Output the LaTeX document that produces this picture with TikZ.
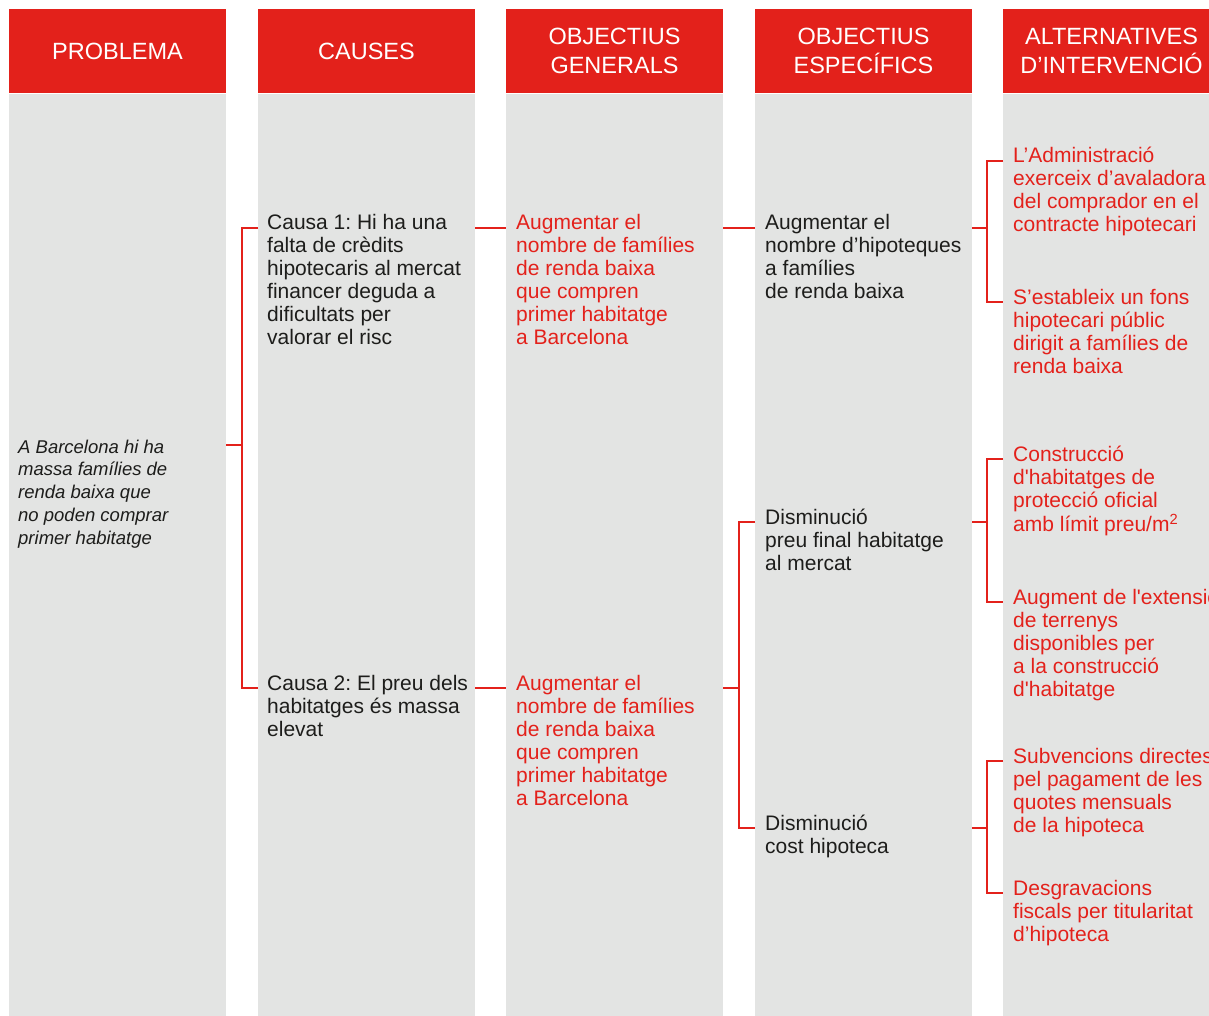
\documentclass[tikz,border=0pt]{standalone}
\usepackage{fontspec}
\newfontfamily\diag{Liberation Sans}
\usetikzlibrary{calc}
\definecolor{dred}{HTML}{E3211B}
\definecolor{dgray}{HTML}{E3E4E3}
\definecolor{dink}{HTML}{1D1D1B}
% rows on a top-aligned stack, so that a node's base is its first line
\newcommand{\rows}[1]{\begin{tabular}[t]{@{}l@{}}#1\end{tabular}}
\tikzset{
	colbody/.style={anchor=north west, fill=dgray, minimum width=217pt, minimum height=930pt, inner sep=0pt, outer sep=0pt},
	colhead/.style={fill=dred, text=white, minimum width=217pt, minimum height=84pt, inner sep=0pt, align=center, font=\diag\fontsize{23.5}{29.5}\selectfont},
	txt/.style={anchor=base west, inner sep=0pt, text=dink, font=\diag\fontsize{21}{23}\selectfont},
	redtxt/.style={txt, text=dred},
	link/.style={draw=dred, line width=2pt}
}
\begin{document}
\frenchspacing
\begin{tikzpicture}[x=1pt, y=-1pt]
		\useasboundingbox (0,0) rectangle (1209,1016);
		\foreach \i/\x/\title in {1/9/PROBLEMA, 2/258/CAUSES, 3/506/{OBJECTIUS\\GENERALS}, 4/755/{OBJECTIUS\\ESPECÍFICS}, 5/1003/{ALTERNATIVES\\D’INTERVENCIÓ}}{
			\node[colbody] (body\i) at (\x,94) {};
			\node[colhead] (head\i) at (\x+108.5,51) {\title};
		}
		
		\node[txt, font=\diag\itshape\fontsize{18.5}{22.75}\selectfont] (pb) at (18,453) {\rows{A Barcelona hi ha\\massa famílies de\\renda baixa que\\no poden comprar\\primer habitatge}};
		
		\node[txt] (cau1) at (267,230) {\rows{Causa 1: Hi ha una\\falta de crèdits\\hipotecaris al mercat\\financer deguda a\\dificultats per\\valorar el risc}};
		\node[txt] (cau2) at (267,690) {\rows{Causa 2: El preu dels\\habitatges és massa\\elevat}};
		
		\node[redtxt] (og1) at (516,230) {\rows{Augmentar el\\nombre de famílies\\de renda baixa\\que compren\\primer habitatge\\a Barcelona}};
		\node[redtxt] (og2) at (516,690) {\rows{Augmentar el\\nombre de famílies\\de renda baixa\\que compren\\primer habitatge\\a Barcelona}};
		
		\node[txt] (oe1) at (765,230) {\rows{Augmentar el\\nombre d’hipoteques\\a famílies\\de renda baixa}};
		\node[txt] (oe2) at (765,524) {\rows{Disminució\\preu final habitatge\\al mercat}};
		\node[txt] (oe3) at (765,830) {\rows{Disminució\\cost hipoteca}};
		
		\node[redtxt] (alt1) at (1013,163) {\rows{L’Administració\\exerceix d’avaladora\\del comprador en el\\contracte hipotecari}};
		\node[redtxt] (alt2) at (1013,304) {\rows{S’estableix un fons\\hipotecari públic\\dirigit a famílies de\\renda baixa}};
		\node[redtxt] (alt3) at (1013,461) {\rows{Construcció\\d'habitatges de\\protecció oficial\\amb límit preu/m\textsuperscript{2}}};
		\node[redtxt] (alt4) at (1013,604) {\rows{Augment de l'extensió\\de terrenys\\disponibles per\\a la construcció\\d'habitatge}};
		\node[redtxt] (alt5) at (1013,763) {\rows{Subvencions directes\\pel pagament de les\\quotes mensuals\\de la hipoteca}};
		\node[redtxt] (alt6) at (1013,895) {\rows{Desgravacions\\fiscals per titularitat\\d’hipoteca}};
		
		% connection points just above the first baselines
		\coordinate (ppb) at ([yshift=8pt]pb.base west);
		\foreach \n in {cau1,cau2,og1,og2,oe1,oe2,oe3,alt1,alt2,alt3,alt4,alt5,alt6}{
			\coordinate (p\n) at ([yshift=2pt]\n.base west);
		}
		
		\draw[link] (ppb -| body1.east) -- ++(16,0) coordinate (fork1);
		\draw[link] (pcau1 -| body2.west) -| (fork1) |- (pcau2 -| body2.west);
		
		\draw[link] (pcau1 -| body2.east) -- (pog1 -| body3.west);
		\draw[link] (pcau2 -| body2.east) -- (pog2 -| body3.west);
		
		\draw[link] (pog1 -| body3.east) -- (poe1 -| body4.west);
		\draw[link] (pog2 -| body3.east) -- ++(16,0) coordinate (fork2);
		\draw[link] (poe2 -| body4.west) -| (fork2) |- (poe3 -| body4.west);
		
		\draw[link] (poe1 -| body4.east) -- ++(15,0) coordinate (fork3);
		\draw[link] (palt1 -| body5.west) -| (fork3) |- (palt2 -| body5.west);
		\draw[link] (poe2 -| body4.east) -- ++(15,0) coordinate (fork4);
		\draw[link] (palt3 -| body5.west) -| (fork4) |- (palt4 -| body5.west);
		\draw[link] (poe3 -| body4.east) -- ++(15,0) coordinate (fork5);
		\draw[link] (palt5 -| body5.west) -| (fork5) |- (palt6 -| body5.west);
	\end{tikzpicture}
\end{document}
